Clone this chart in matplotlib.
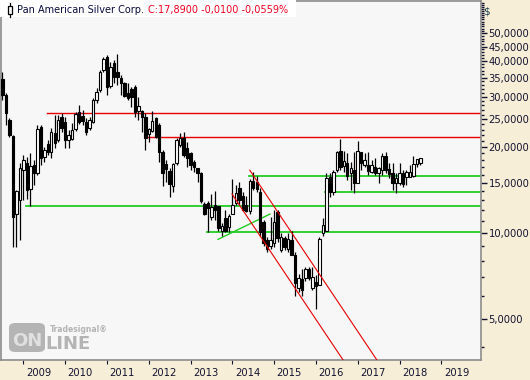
import numpy as np
import matplotlib.pyplot as plt
from matplotlib.patches import Rectangle, FancyBboxPatch
from matplotlib.transforms import ScaledTranslation

# monthly candles, Jul 2008 .. Jul 2018
opens = [34.6, 30.4, 24.9, 21.9, 11.7, 13.0, 16.6, 17.6, 14.3, 17.3,
         16.2, 23.5, 18.5, 20.5, 19.2, 22.4, 21.2, 25.5, 24.5, 21.2,
         21.4, 23.2, 26.5, 25.1, 24.5, 23.3, 24.5, 29.2, 31.7, 37.2,
         41.4, 32.7, 39.4, 36.3, 34.9, 33.5, 30.2, 31.9, 32.4, 26.7,
         26.7, 25.5, 22.2, 22.8, 25.3, 23.9, 19.2, 16.9, 16.5, 14.6,
         17.6, 20.3, 21.5, 19.9, 19.1, 17.6, 16.3, 16.2, 12.6, 12.5,
         11.4, 12.5, 12.4, 10.2, 11.3, 10.5, 11.7, 12.7, 14.4, 13.5,
         12.5, 11.9, 15.2, 15.1, 13.9, 10.9, 9.45, 9.0, 9.2, 11.8,
         8.7, 9.6, 8.8, 9.45, 8.4, 6.4, 6.9, 6.95, 7.5, 6.4,
         6.6, 6.6, 10.0, 10.2, 15.7, 13.9, 16.6, 19.4, 17.2, 17.6,
         16.2, 16.6, 15.0, 19.2, 17.3, 17.3, 16.3, 17.0, 16.2, 16.6,
         18.6, 16.8, 16.2, 15.0, 15.0, 16.2, 15.7, 15.7, 15.8, 17.4,
         17.6]
highs = [36.6, 30.9, 25.3, 22.0, 14.1, 17.6, 18.8, 18.5, 19.1, 18.0,
         23.9, 23.9, 20.0, 21.2, 23.3, 25.9, 25.9, 26.3, 25.5, 23.0,
         24.3, 26.5, 28.1, 27.0, 25.3, 25.5, 29.7, 32.2, 37.2, 41.4,
         42.0, 39.7, 40.4, 42.3, 35.7, 33.8, 33.5, 32.4, 32.9, 30.0,
         27.0, 26.3, 23.3, 26.7, 25.5, 24.3, 19.5, 18.0, 16.9, 17.6,
         21.5, 22.4, 22.6, 20.8, 19.2, 18.0, 16.9, 16.3, 12.8, 12.9,
         13.7, 14.0, 12.4, 10.8, 12.0, 11.7, 15.5, 14.7, 15.1, 13.9,
         13.5, 15.5, 16.3, 15.8, 14.4, 11.1, 9.7, 11.4, 12.0, 12.0,
         10.0, 9.8, 10.0, 10.2, 8.6, 7.2, 7.5, 7.6, 7.6, 7.6,
         7.1, 9.7, 11.3, 16.2, 16.2, 16.6, 19.4, 21.4, 19.4, 19.1,
         17.7, 19.2, 21.0, 19.2, 19.1, 19.2, 18.0, 18.3, 17.0, 19.1,
         19.2, 17.6, 17.6, 16.2, 17.6, 16.6, 16.6, 17.3, 18.6, 18.0,
         18.3]
lows = [29.2, 23.9, 21.7, 8.9, 8.9, 9.45, 13.0, 13.2, 12.4, 14.7,
        16.0, 17.3, 17.7, 18.8, 18.3, 19.9, 20.8, 22.6, 19.9, 19.9,
        21.2, 22.8, 24.1, 23.9, 22.0, 23.0, 24.3, 28.5, 31.2, 36.6,
        30.4, 32.2, 33.5, 32.9, 30.4, 30.0, 29.2, 27.6, 25.5, 24.9,
        22.6, 19.5, 20.8, 22.6, 21.5, 17.7, 14.6, 15.1, 13.4, 13.9,
        17.3, 20.0, 18.5, 17.0, 16.6, 16.3, 15.1, 12.7, 11.6, 10.1,
        11.1, 11.1, 10.2, 9.8, 10.1, 10.1, 11.7, 12.5, 12.5, 11.9,
        11.8, 11.7, 14.1, 13.9, 9.8, 9.0, 8.6, 8.8, 8.9, 9.3,
        8.6, 8.7, 8.6, 8.4, 6.0, 6.2, 6.0, 6.8, 6.85, 6.3,
        5.4, 6.6, 9.8, 10.2, 13.4, 13.6, 16.3, 16.6, 16.3, 15.3,
        14.1, 13.8, 15.0, 16.6, 17.0, 16.0, 16.2, 16.0, 15.0, 16.0,
        16.2, 15.6, 14.1, 13.8, 14.7, 14.5, 14.7, 15.7, 15.7, 17.0,
        17.3]
closes = [30.4, 26.3, 22.0, 11.4, 14.0, 16.9, 18.0, 14.1, 17.2, 16.2,
          23.2, 18.3, 19.5, 19.2, 22.6, 20.7, 24.9, 23.3, 21.2, 22.0,
          23.0, 26.1, 24.5, 24.7, 22.6, 24.9, 29.2, 31.2, 36.6, 40.7,
          32.4, 38.1, 35.2, 35.2, 33.5, 30.2, 29.7, 30.0, 26.5, 27.6,
          25.5, 21.5, 22.6, 24.7, 21.7, 19.2, 16.2, 16.8, 14.8, 17.4,
          21.2, 21.5, 18.8, 18.3, 17.3, 17.0, 16.2, 12.9, 11.7, 12.2,
          12.3, 12.0, 10.4, 10.5, 10.2, 11.5, 12.5, 13.8, 13.0, 12.0,
          11.9, 15.2, 14.4, 14.3, 10.1, 9.2, 8.8, 9.45, 10.9, 9.6,
          9.7, 8.9, 9.5, 8.4, 6.7, 6.95, 6.3, 7.5, 6.95, 7.0,
          6.5, 9.5, 10.7, 15.6, 13.9, 16.3, 19.2, 17.0, 17.6, 15.8,
          16.6, 15.0, 19.4, 17.6, 17.6, 16.5, 17.3, 16.2, 16.6, 18.6,
          16.6, 16.1, 15.0, 15.5, 16.2, 14.8, 16.2, 16.1, 17.4, 17.7,
          17.89]

years = list(range(2009, 2020))
price_ticks = [5, 10, 15, 20, 25, 30, 35, 40, 45, 50]

# drawn lines (month index, price)
red_levels = [(12.8, 26.3), (41.8, 21.7)]
green_levels = [(6.75, 12.4), (58.7, 10.1), (70.8, 15.8), (92.6, 13.9)]
green_trend = ([61.9, 76.8], [9.5, 11.65])
red_channel_up = ([71.0, 107.5], [16.6, 3.59])
red_channel_lo = ([65.9, 97.8], [13.7, 3.59])

W, H = 530, 380
cream = '#F6EED6'
fig = plt.figure(figsize=(W / 100, H / 100), dpi=100)
fig.patch.set_facecolor(cream)
ax = fig.add_axes([1 / W, 20 / H, 480 / W, 359 / H])
ax.set_facecolor('#F7F7F7')
for s in ax.spines.values():
    s.set_color('#8C8C8C')
    s.set_linewidth(1.2)

ax.set_yscale('log')
ax.set_xlim(-0.43, 137.4)
ax.set_ylim(3.59, 64.97)

x = np.arange(len(closes))
o = np.array(opens); c = np.array(closes)
ax.vlines(x, lows, highs, color='black', lw=0.9, zorder=3)
up = c >= o
bot = np.minimum(o, c)
hgt = np.maximum(np.abs(c - o), 0.04 * c)
ax.bar(x[up], hgt[up], bottom=bot[up], width=0.7, color='white',
       edgecolor='black', lw=0.8, zorder=4)
ax.bar(x[~up], hgt[~up], bottom=bot[~up], width=0.7, color='black',
       edgecolor='black', lw=0.8, zorder=4)

xr = 137.4
for x0, p in red_levels:
    ax.plot([x0, xr], [p, p], color='#E80000', lw=1.0, zorder=2)
for x0, p in green_levels:
    ax.plot([x0, xr], [p, p], color='#22CC22', lw=1.3, zorder=2)
ax.plot(*green_trend, color='#22CC22', lw=1.0, zorder=2)
ax.plot(*red_channel_up, color='#E80000', lw=0.8, zorder=5)
ax.plot(*red_channel_lo, color='#E80000', lw=0.8, zorder=5)

# y axis on the right
tc = '#141432'
ax.yaxis.tick_right()
ax.set_yticks(price_ticks)
ax.set_yticklabels(['%d,0000' % p for p in price_ticks])
ax.set_yticks([v for v in range(4, 65) if v not in price_ticks], minor=True)
ax.yaxis.set_minor_formatter(plt.NullFormatter())
ax.tick_params(axis='y', which='major', length=4, width=1, color=tc,
               labelsize=7.2, labelcolor=tc, pad=1.5)
ax.tick_params(axis='y', which='minor', length=2, width=1, color=tc)

# x axis: years
ax.set_xticks([(yv - 2008.5) * 12 for yv in years])
ax.set_xticklabels([str(yv) for yv in years], ha='left')
ax.tick_params(axis='x', which='major', length=3, width=0.8, color=tc,
               labelsize=7.2, labelcolor=tc, pad=2.5)
ax.xaxis.set_minor_locator(plt.NullLocator())
shift = ScaledTranslation(2.5 / 100, 0, fig.dpi_scale_trans)
for lbl in ax.get_xticklabels():
    lbl.set_transform(lbl.get_transform() + shift)

fig.text(483 / W, 1 - 11 / H, '$', fontsize=7.5, color='#1E4050', va='center')

# header
fig.patches.append(Rectangle((0, 1 - 17 / H), 296 / W, 17 / H,
                             transform=fig.transFigure, facecolor='white',
                             edgecolor='none', zorder=5))
fig.patches.append(Rectangle((7.5 / W, 1 - 14 / H), 4 / W, 8 / H,
                             transform=fig.transFigure, facecolor='white',
                             edgecolor='black', lw=0.9, zorder=6))
fig.lines.append(plt.Line2D([9.5 / W, 9.5 / W], [1 - 17 / H, 1 - 3 / H],
                            transform=fig.transFigure, color='black',
                            lw=0.9, zorder=5.5))
fig.text(17 / W, 1 - 10 / H, 'Pan American Silver Corp.', fontsize=7,
         color='#0A0A3C', va='center', zorder=7)
fig.text(148 / W, 1 - 10 / H, 'C:17,8900 -0,0100 -0,0559%', fontsize=7,
         color='#F00020', va='center', zorder=7)

# watermark
g = '#B4B4B4'
fig.patches.append(FancyBboxPatch((9 / W, 1 - 352 / H), 36 / W, 29 / H,
                                  boxstyle='round,pad=0,rounding_size=0.012',
                                  transform=fig.transFigure, facecolor=g,
                                  edgecolor='none', zorder=3))
fig.text(27 / W, 1 - 341 / H, 'ON', fontsize=13, fontweight='bold',
         color='#E0E0E0', ha='center', va='center', zorder=4)
fig.text(45 / W, 1 - 344 / H, 'LINE', fontsize=13, fontweight='bold',
         color=g, ha='left', va='center', zorder=4)
fig.text(50 / W, 1 - 330 / H, 'Tradesignal\u00ae', fontsize=5.5,
         fontweight='bold', color=g, ha='left', va='center', zorder=4)

plt.savefig('out.png', dpi=100, facecolor=cream)
